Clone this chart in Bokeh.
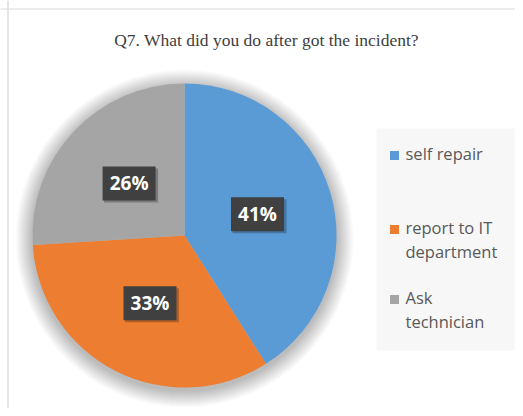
import math
from bokeh.plotting import figure
from bokeh.models import Range1d, Span
from bokeh.core.properties import value
from bokeh.embed import file_html
from bokeh.resources import INLINE

# ---- data ----
categories = ["self repair", "report to IT\ndepartment", "Ask\ntechnician"]
values = [41, 33, 26]
pct_labels = ["41%", "33%", "26%"]
colors = ["#5B9BD5", "#ED7D31", "#A5A5A5"]
title_text = "Q7. What did you do after got the incident?"

W, H = 515, 408
p = figure(width=W, height=H, output_backend="svg", toolbar_location=None,
           x_range=Range1d(0, W), y_range=Range1d(0, H), min_border=0,
           x_axis_location=None, y_axis_location=None)
p.grid.visible = False
p.outline_line_color = None
p.background_fill_color = "white"
p.border_fill_color = "white"

# frame lines (left / top)
p.add_layout(Span(location=7.5, dimension="height", line_color="#cfcfcf", line_width=1))
p.add_layout(Span(location=H - 8.5, dimension="width", line_color="#d9d9d9", line_width=1))

# title
p.text(x=[266], y=[369], text=[title_text], text_align="center", text_baseline="middle",
       text_font=value("Liberation Serif"), text_font_size="17.5px", text_color="#404040")

cx, cy, R = 184, 173, 152

# soft shadow
for k in range(1, 18):
    p.circle(x=[cx], y=[cy - 3], radius=R + k, fill_color="black", fill_alpha=0.014,
             line_color=None)

total = float(sum(values))
starts, ends, mids = [], [], []
acc = 0.0
for v in values:
    a0 = math.pi / 2 - 2 * math.pi * acc / total
    acc += v
    a1 = math.pi / 2 - 2 * math.pi * acc / total
    starts.append(a1)
    ends.append(a0)
    mids.append((a0 + a1) / 2)

p.wedge(x=[cx] * len(values), y=[cy] * len(values), radius=R,
        start_angle=starts, end_angle=ends, fill_color=colors, line_color=None)

# data labels
lr = 0.5 * R
lx = [cx + lr * math.cos(m) for m in mids]
ly = [cy + lr * math.sin(m) for m in mids]
p.rect(x=[x + 2 for x in lx], y=[y - 2 for y in ly], width=54, height=34,
       width_units="screen", height_units="screen", fill_color="black", fill_alpha=0.25,
       line_color=None)
p.rect(x=lx, y=ly, width=53, height=34, width_units="screen", height_units="screen",
       fill_color="#404040", line_color=None)
p.text(x=lx, y=ly, text=pct_labels, text_align="center", text_baseline="middle",
       text_color="white", text_font=value("Open Sans"), text_font_style="bold",
       text_font_size="19px")

# legend
p.quad(left=[376], right=[514], bottom=[58], top=[280], fill_color="#f7f7f7", line_color=None)
leg_y = [253, 179, 109]
p.scatter(x=[394] * len(categories), y=leg_y, marker="square", size=9,
          fill_color=colors, line_color=None)
tx, ty, tt = [], [], []
for yy, lab in zip(leg_y, categories):
    for j, line in enumerate(lab.split("\n")):
        tx.append(405)
        ty.append(yy + 2 - 24 * j)
        tt.append(line)
p.text(x=tx, y=ty, text=tt, text_align="left", text_baseline="middle",
       text_font=value("Open Sans"), text_font_size="16.5px", text_color="#595959")

open("out.html", "w").write(file_html(p, INLINE))
